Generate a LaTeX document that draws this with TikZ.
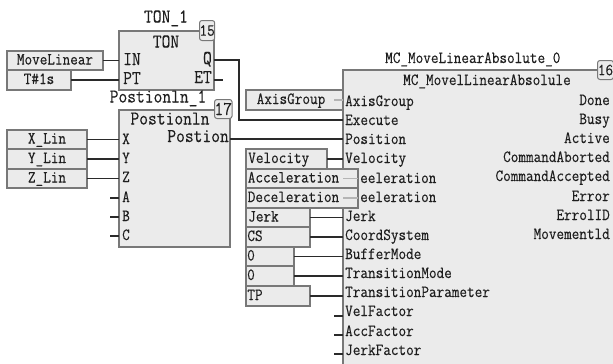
\documentclass[tikz,border=0pt]{standalone}
\usepackage{fontspec}
\setmonofont[FakeStretch=0.87,FakeBold=0.25]{Latin Modern Mono}
\newcommand{\ftA}{\ttfamily\fontsize{17}{18}\selectfont}
\newcommand{\ftB}{\ttfamily\fontsize{19.6}{21}\selectfont}
\definecolor{boxfill}{HTML}{EBEBEB}
\definecolor{boxline}{HTML}{787878}
\definecolor{wire}{HTML}{2A2A2A}
\definecolor{pale}{HTML}{B4B4B4}
\definecolor{ink}{HTML}{1E1E1E}
\tikzset{
  block/.style={draw=boxline,fill=boxfill,line width=1.3pt,anchor=north west,inner sep=0pt,outer sep=0pt},
  varbox/.style={block,font=\ftA,text=ink,text height=10pt,text depth=2pt},
  badge/.style={draw=boxline,fill=boxfill,line width=1pt,rounded corners=2.5pt,anchor=north west,inner sep=0pt,font=\ftA,text=ink},
  lab/.style={font=\ftA,text=ink,inner sep=0pt,anchor=west,text height=10pt,text depth=2pt},
  labr/.style={font=\ftA,text=ink,inner sep=0pt,anchor=east,text height=10pt,text depth=2pt},
  big/.style={font=\ftB,text=ink,inner sep=0pt,text height=11pt,text depth=2pt},
  wireline/.style={draw=wire,line width=1.3pt},
  paleline/.style={draw=pale,line width=1.2pt}
}
\begin{document}
\begin{tikzpicture}[x=1pt,y=-1pt]
\useasboundingbox (0,0) rectangle (613,364);
% main blocks
\node[block,minimum width=95,minimum height=59] (ton) at (119,31) {};
\node[block,minimum width=111,minimum height=137] (pos) at (119,110) {};
\node[block,minimum width=275,minimum height=300] (mc) at (343,70) {};
% titles and badges
\node[big] (tonT) at (166,18) {TON\_1};
\node[big] (tonN) at (166,43) {TON};
\node[badge,minimum width=15,minimum height=20] (b15) at (199,20) {15};
\node[big] (posT) at (158,98) {Postionln\_1};
\node[big] (posN) at (170,120) {Postionln};
\node[badge,minimum width=16,minimum height=19,font=\ftB] (b17) at (214,99) {17};
\node[lab] (mcT) at (385,59) {MC\_MoveLinearAbsolute\_0};
\node[lab] (mcN) at (403,81) {MC\_MovelLinearAbsolule};
\node[badge,minimum width=16,minimum height=19] (b16) at (597,60) {16};
% TON pins
\node[lab,font=\ftB] (pIN) at (123,61) {IN};
\node[lab,font=\ftB] (pPT) at (123,80) {PT};
\node[labr,font=\ftB] (pQ) at (212,60) {Q};
\node[labr,font=\ftB] (pET) at (212,79) {ET};
% Postionln pins
\node[labr,font=\ftB] (pPo) at (229,138) {Postion};
\node[lab] (pX) at (122,140) {X};
\node[lab] (pY) at (122,159) {Y};
\node[lab] (pZ) at (122,178) {Z};
\node[lab] (pA) at (122,198) {A};
\node[lab] (pB) at (122,217) {B};
\node[lab] (pC) at (122,236) {C};
% MC input pins
\node[lab] (mAx) at (345,102) {AxisGroup};
\node[lab] (mEx) at (345,121) {Execute};
\node[lab] (mPo) at (345,140) {Position};
\node[lab] (mVe) at (345,159) {Velocity};
\node[lab] (mAc) at (360,179) {eeleration};
\node[lab] (mDe) at (360,198) {eeleration};
\node[lab] (mJe) at (345,217) {Jerk};
\node[lab] (mCS) at (345,236) {CoordSystem};
\node[lab] (mBu) at (345,255) {BufferMode};
\node[lab] (mTM) at (345,274) {TransitionMode};
\node[lab] (mTP) at (345,293) {TransitionParameter};
\node[lab] (mVF) at (345,312) {VelFactor};
\node[lab] (mAF) at (345,332) {AccFactor};
\node[lab] (mJF) at (345,351) {JerkFactor};
% MC outputs
\node[labr] (oDo) at (610,101) {Done};
\node[labr] (oBu) at (610,120) {Busy};
\node[labr] (oAc) at (610,139) {Active};
\node[labr] (oCA) at (610,158) {CommandAborted};
\node[labr] (oCC) at (610,177) {CommandAccepted};
\node[labr] (oEr) at (610,197) {Error};
\node[labr] (oID) at (610,216) {ErrolID};
\node[labr] (oMo) at (610,235) {Movementld};
% variable boxes
\node[varbox,minimum width=96,minimum height=19] (vML) at (7,51) {MoveLinear};
\node[varbox,minimum width=64,minimum height=20] (vT) at (7,70) {T\#1s};
\node[varbox,minimum width=80,minimum height=19] (vX) at (7,130) {X\_Lin};
\node[varbox,minimum width=80,minimum height=20] (vY) at (7,149) {Y\_Lin};
\node[varbox,minimum width=80,minimum height=19] (vZ) at (7,169) {Z\_Lin};
\node[varbox,minimum width=97,minimum height=20] (vAx) at (246,90) {AxisGroup\hspace*{7pt}};
\node[varbox,minimum width=81,minimum height=20] (vVe) at (246,149) {\hspace*{1.5pt}Velocity\hspace*{17pt}};
\node[varbox,minimum width=112,minimum height=19] (vAc) at (246,169) {Acceleration\hspace*{17pt}};
\node[varbox,minimum width=112,minimum height=20] (vDe) at (246,188) {Deceleration\hspace*{17pt}};
\node[varbox,minimum width=64,minimum height=19] (vJe) at (246,208) {\hspace*{2pt}Jerk\hspace*{31pt}};
\node[varbox,minimum width=64,minimum height=20] (vCS) at (246,227) {CS\hspace*{46pt}};
\node[varbox,minimum width=48,minimum height=19] (v0a) at (246,247) {0\hspace*{38pt}};
\node[varbox,minimum width=48,minimum height=20] (v0b) at (246,266) {0\hspace*{38pt}};
\node[varbox,minimum width=64,minimum height=20] (vTP) at (246,286) {TP\hspace*{46pt}};
% free ends of unconnected pins
\coordinate (eET) at (223,80);
\coordinate (eA) at (110,198);
\coordinate (eB) at (110,217);
\coordinate (eC) at (110,236);
\coordinate (eAx) at (334,100);
\coordinate (eVF) at (334,316);
\coordinate (eAF) at (334,335);
\coordinate (eJF) at (334,354);
\coordinate (kQ) at (239,60);
\coordinate (kE) at (239,120);
% connectors
\draw[wireline] (vML.east) -- (ton.west |- vML.east);
\draw[wireline] (vT.east) -- (ton.west |- vT.east);
\draw[wireline] (ton.east |- kQ) -- (kQ) -- (kE) -- (mc.west |- kE);
\draw[wireline] (ton.east |- eET) -- (eET);
\draw[wireline] (vX.east) -- (pos.west |- vX.east);
\draw[wireline] (vY.east) -- (pos.west |- vY.east);
\draw[wireline] (vZ.east) -- (pos.west |- vZ.east);
\draw[wireline] (eA) -- (pos.west |- eA);
\draw[wireline] (eB) -- (pos.west |- eB);
\draw[wireline] (eC) -- (pos.west |- eC);
\draw[wireline] (pos.east |- 0,139) -- (mc.west |- 0,139);
\draw[paleline] (eAx) -- (mc.west |- eAx);
\draw[wireline] (vVe.east) -- (mc.west |- vVe.east);
\draw[paleline] (mc.west |- vAc.east) -- (vAc.east);
\draw[paleline] (mc.west |- vDe.east) -- (vDe.east);
\draw[wireline] (vJe.east) -- (mc.west |- vJe.east);
\draw[wireline] (vCS.east) -- (mc.west |- vCS.east);
\draw[wireline] (v0a.east) -- (mc.west |- v0a.east);
\draw[wireline] (v0b.east) -- (mc.west |- v0b.east);
\draw[wireline] (vTP.east) -- (mc.west |- vTP.east);
\draw[wireline] (eVF) -- (mc.west |- eVF);
\draw[wireline] (eAF) -- (mc.west |- eAF);
\draw[wireline] (eJF) -- (mc.west |- eJF);
\end{tikzpicture}
\end{document}
